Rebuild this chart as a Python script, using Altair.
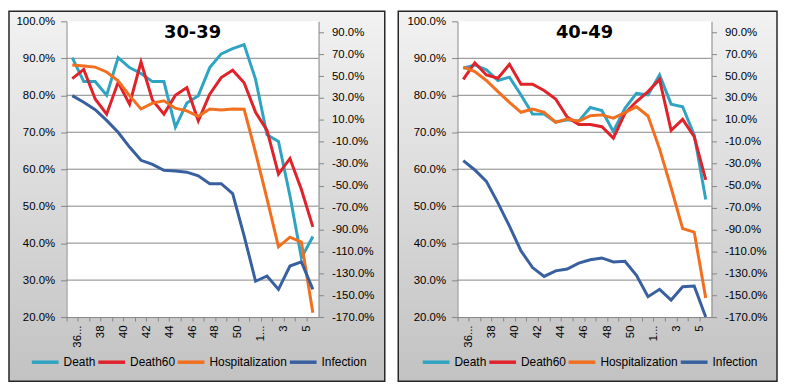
import altair as alt
import pandas as pd

# ---------------- data ----------------
weeks = ["36 (2020)"] + [str(w) for w in range(37, 52)] + ["1 (2021)"] + [str(w) for w in range(2, 7)]
shown_weeks = weeks[::2]

series_names = ["Death", "Death60", "Hospitalization", "Infection"]
series_colors = ["#2fa4c2", "#e0232b", "#f26f1f", "#38609f"]
left_series = ["Death", "Death60"]          # primary (left) axis
right_series = ["Hospitalization", "Infection"]  # secondary (right) axis

panels = ["30-39", "40-49"]

# panel 30-39
p1_death = [90.2, 83.7, 83.7, 80.0, 90.2, 87.5, 85.9, 83.7, 83.7, 71.4, 77.9, 79.9, 87.5, 91.2, 92.6, 93.7, 84.3, 69.3, 67.5, 52.8, 36.0, 41.8]
p1_death60 = [84.5, 87.0, 79.0, 74.9, 83.5, 77.6, 89.0, 78.7, 74.9, 80.0, 82.1, 73.1, 80.3, 84.8, 86.8, 83.4, 75.4, 70.5, 58.7, 62.9, 54.5, 44.4]
p1_hosp = [60.2, 59.2, 58.2, 53.8, 45.7, 32.2, 20.0, 25.4, 27.4, 20.7, 18.3, 13.3, 20.0, 19.0, 20.0, 19.7, -19.8, -62.0, -105.9, -97.1, -101.5, -166.0]
p1_inf = [32.2, 26.1, 19.3, 9.6, -1.3, -14.8, -26.9, -30.6, -36.0, -36.7, -37.7, -41.1, -48.2, -48.2, -57.3, -95.8, -137.3, -132.5, -144.7, -123.4, -119.7, -144.7]

# panel 40-49
p2_death = [87.3, 88.2, 86.9, 84.0, 84.9, 80.1, 74.9, 74.9, 72.7, 73.4, 73.0, 76.7, 75.9, 70.2, 76.5, 80.5, 80.1, 85.5, 77.6, 76.9, 69.3, 51.8]
p2_death60 = [84.3, 88.8, 85.5, 84.6, 88.4, 83.0, 83.0, 81.3, 79.0, 74.1, 72.1, 72.1, 71.5, 68.4, 75.1, 78.3, 81.0, 84.3, 70.5, 73.5, 68.8, 57.1]
p2_hosp = [58.2, 54.1, 46.0, 35.9, 26.1, 17.0, 20.0, 17.0, 7.9, 10.9, 8.9, 13.9, 14.6, 11.6, 16.6, 22.0, 13.6, -16.4, -51.9, -89.3, -92.4, -152.5]
p2_inf = [-27.2, -35.7, -46.1, -65.7, -87.0, -109.6, -124.8, -132.9, -127.8, -126.1, -120.7, -117.7, -116.0, -119.7, -119.0, -131.9, -151.4, -144.7, -154.5, -142.3, -141.7, -170.0]

left_ticks = [20, 30, 40, 50, 60, 70, 80, 90, 100]
grid_values = [30, 40, 50, 60, 70, 80, 90]
right_ticks = list(range(-170, 91, 20))

# ---------------- style ----------------
HEIGHT = 298
FONT = "Liberation Sans"
AXIS_GRAY = "#868686"

gradient = alt.Gradient(
    gradient="linear",
    stops=[alt.GradientStop(color="#f2f2f2", offset=0),
           alt.GradientStop(color="#c2c2c2", offset=1)],
    x1=0, x2=0, y1=0, y2=1,
)


def make_panel(name, death, death60, hosp, inf, width, box_left, box_right):
    rows = []
    for s, vals in zip(series_names, [death, death60, hosp, inf]):
        for w, v in zip(weeks, vals):
            rows.append({"week": w, "series": s, "value": v})
    df = pd.DataFrame(rows)

    label_list = "[" + ",".join("'" + w + "'" for w in shown_weeks) + "]"
    x_axis = alt.Axis(
        labelAngle=270, bandPosition=0, labelOffset=width / len(weeks) / 2,
        labelExpr=(f"indexof({label_list}, datum.value) >= 0 ? "
                   "(indexof(datum.value, ' ') > 0 ? substring(datum.value, 0, indexof(datum.value, ' ')) + '...' : datum.value) : ''"),
        labelOverlap=False, tickSize=4, labelPadding=4, grid=False,
        domainColor=AXIS_GRAY, tickColor=AXIS_GRAY, labelColor="black",
        labelFont=FONT, labelFontSize=11.5, zindex=1,
    )
    x_enc = alt.X("week:N", title=None,
                  scale=alt.Scale(type="band", domain=weeks, paddingInner=0, paddingOuter=0),
                  axis=x_axis)

    left_scale = alt.Scale(domain=[20, 100], nice=False, zero=False)
    right_scale = alt.Scale(domain=[-170, 100], nice=False, zero=False)
    left_axis = alt.Axis(values=left_ticks, orient="left", grid=False,
                         labelExpr="format(datum.value, '.1f') + '%'",
                         tickSize=6, labelPadding=6, domainColor=AXIS_GRAY, tickColor=AXIS_GRAY,
                         labelColor="black", labelFont=FONT, labelFontSize=11.5, zindex=1)
    right_axis = alt.Axis(values=right_ticks, orient="right", grid=False,
                          labelExpr="replace(format(datum.value, '.1f'), '\u2212', '-') + '%'",
                          tickSize=5, labelPadding=8, domainColor=AXIS_GRAY, tickColor=AXIS_GRAY,
                          labelColor="black", labelFont=FONT, labelFontSize=11.5, zindex=1)

    color_enc = alt.Color(
        "series:N",
        scale=alt.Scale(domain=series_names, range=series_colors),
        legend=alt.Legend(title=None, orient="none", legendX=-37, legendY=328,
                          direction="horizontal", columns=4, gridAlign="none",
                          symbolType="stroke", symbolStrokeWidth=3.5, symbolSize=729,
                          labelFont=FONT, labelFontSize=12, labelColor="black",
                          labelOffset=3, columnPadding=-5, padding=0, zindex=1),
    )

    one = alt.Data(values=[{"t": name}])
    bg = alt.Chart(one).mark_rect(fill=gradient, stroke="#262626", strokeWidth=1.5).encode(
        x=alt.value(box_left), x2=alt.value(box_right),
        y=alt.value(-10.3), y2=alt.value(362.7))
    plot_bg = alt.Chart(one).mark_rect(fill="white").encode(
        x=alt.value(0), x2=alt.value(width), y=alt.value(0), y2=alt.value(HEIGHT))
    grid = alt.Chart(alt.Data(values=[{"v": v} for v in grid_values])).mark_rule(
        color=AXIS_GRAY, strokeWidth=1).encode(
        y=alt.Y("v:Q", scale=left_scale, axis=left_axis, title=None))

    base = alt.Chart(df)
    left_lines = base.transform_filter(
        alt.FieldOneOfPredicate(field="series", oneOf=left_series)
    ).mark_line(strokeWidth=3).encode(
        x=x_enc,
        y=alt.Y("value:Q", scale=left_scale, axis=left_axis, title=None),
        color=color_enc,
    )
    right_lines = base.transform_filter(
        alt.FieldOneOfPredicate(field="series", oneOf=right_series)
    ).mark_line(strokeWidth=3).encode(
        x=x_enc,
        y=alt.Y("value:Q", scale=right_scale, axis=right_axis, title=None),
        color=color_enc,
    )
    title = alt.Chart(one).mark_text(
        font="DejaVu Sans", fontSize=18, fontWeight="bold", color="black",
        align="center", baseline="alphabetic").encode(
        x=alt.value(width / 2), y=alt.value(17), text="t:N")

    primary = alt.layer(bg, plot_bg, grid, left_lines, title)
    return alt.layer(primary, right_lines).resolve_scale(y="independent").properties(
        width=width, height=HEIGHT)


panel1 = make_panel(panels[0], p1_death, p1_death60, p1_hosp, p1_inf, 254, -58, 320.7)
panel2 = make_panel(panels[1], p2_death, p2_death60, p2_hosp, p2_inf, 256, -59.7, 322)

chart = alt.hconcat(panel1, panel2, spacing=11).resolve_scale(
    x="independent", y="independent", color="independent"
).resolve_legend(color="independent").properties(padding=0).configure_view(stroke=None)

chart.save("out.html", embed_options={"renderer": "svg", "actions": False})
